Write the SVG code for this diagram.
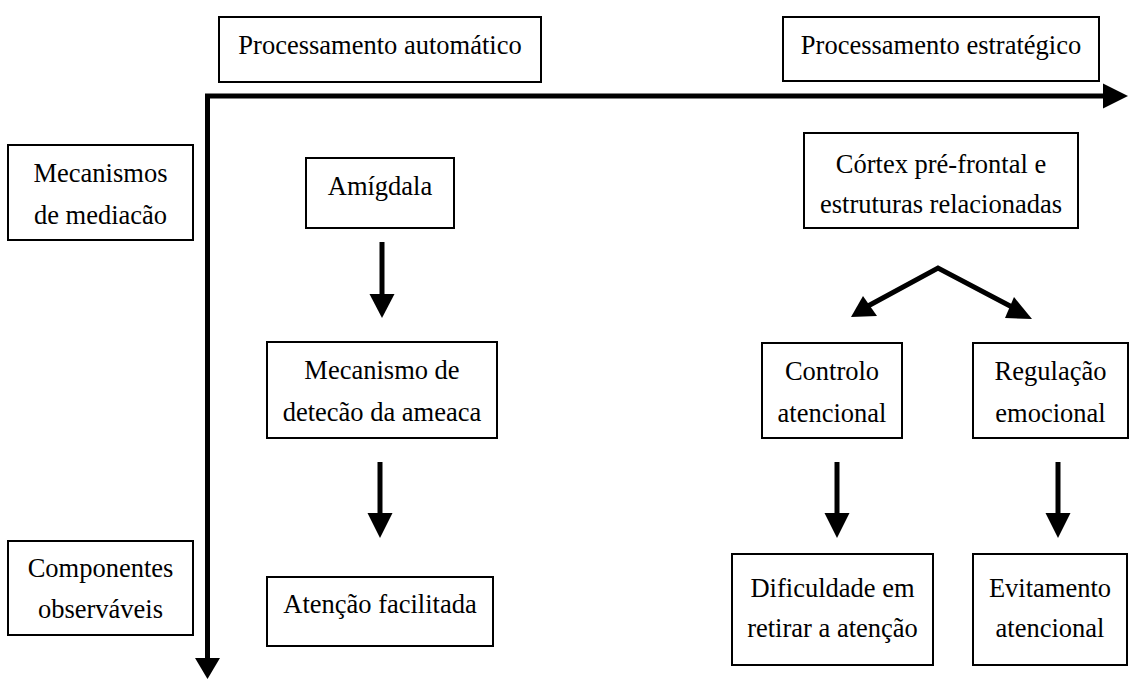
<svg xmlns="http://www.w3.org/2000/svg" width="1132" height="679" viewBox="0 0 1132 679">
<style>
.box{fill:#fff;stroke:#000;stroke-width:2}
.t{font-family:"Liberation Serif","Times New Roman",serif;font-size:26.5px;fill:#000;text-anchor:middle}
.ln{stroke:#000;stroke-width:5;fill:none}
.hd{fill:#000}
</style>
<rect width="1132" height="679" fill="#fff"/>
<g id="axes">
<line class="ln" x1="205" y1="96" x2="1105" y2="96"/>
<polygon class="hd" points="1103,83.5 1128,96 1103,108.5"/>
<line class="ln" x1="207.5" y1="94" x2="207.5" y2="660"/>
<polygon class="hd" points="195,658 220,658 207.5,679"/>
</g>
<g id="n-auto"><rect class="box" x="219" y="17" width="322" height="65"/><text class="t" x="380" y="54">Processamento automático</text></g>
<g id="n-estr"><rect class="box" x="783" y="17" width="316" height="64"/><text class="t" x="941" y="54">Processamento estratégico</text></g>
<g id="n-mec"><rect class="box" x="8" y="145" width="185" height="95"/><text class="t" x="100.5" y="182">Mecanismos</text><text class="t" x="100.5" y="224">de mediacão</text></g>
<g id="n-comp"><rect class="box" x="8" y="541" width="185" height="94"/><text class="t" x="100.5" y="577">Componentes</text><text class="t" x="100.5" y="618">observáveis</text></g>
<g id="n-amig"><rect class="box" x="306" y="158" width="148" height="70"/><text class="t" x="380" y="195">Amígdala</text></g>
<g id="n-detec"><rect class="box" x="267" y="342" width="230" height="96"/><text class="t" x="382" y="379">Mecanismo de</text><text class="t" x="382" y="421">detecão da ameaca</text></g>
<g id="n-aten"><rect class="box" x="267" y="577" width="226" height="69"/><text class="t" x="380" y="613">Atenção facilitada</text></g>
<g id="n-cortex"><rect class="box" x="804" y="133" width="274" height="95"/><text class="t" x="941" y="173">Córtex pré-frontal e</text><text class="t" x="941" y="213">estruturas relacionadas</text></g>
<g id="n-ctrl"><rect class="box" x="762" y="343" width="140" height="95"/><text class="t" x="832" y="380">Controlo</text><text class="t" x="832" y="422">atencional</text></g>
<g id="n-reg"><rect class="box" x="973" y="343" width="155" height="95"/><text class="t" x="1050.5" y="380">Regulação</text><text class="t" x="1050.5" y="422">emocional</text></g>
<g id="n-dif"><rect class="box" x="732" y="554" width="201" height="111"/><text class="t" x="832.5" y="597">Dificuldade em</text><text class="t" x="832.5" y="637">retirar a atenção</text></g>
<g id="n-evit"><rect class="box" x="973" y="554" width="154" height="111"/><text class="t" x="1050" y="597">Evitamento</text><text class="t" x="1050" y="637">atencional</text></g>
<g id="connectors">
<line class="ln" x1="382" y1="242" x2="382" y2="296"/>
<polygon class="hd" points="369.5,294 394.5,294 382,318"/>
<line class="ln" x1="380" y1="462" x2="380" y2="515"/>
<polygon class="hd" points="367.5,513 392.5,513 380,538"/>
<line class="ln" x1="837" y1="462" x2="837" y2="515"/>
<polygon class="hd" points="824.5,513 849.5,513 837,538"/>
<line class="ln" x1="1058" y1="462" x2="1058" y2="515"/>
<polygon class="hd" points="1045.5,513 1070.5,513 1058,538"/>
<polyline class="ln" points="868,306 938,268 1012,307" stroke-linejoin="miter"/>
<polygon class="hd" points="851,317 863,296 877,316"/>
<polygon class="hd" points="1032,319 1005,318 1014,297"/>
</g>
</svg>
